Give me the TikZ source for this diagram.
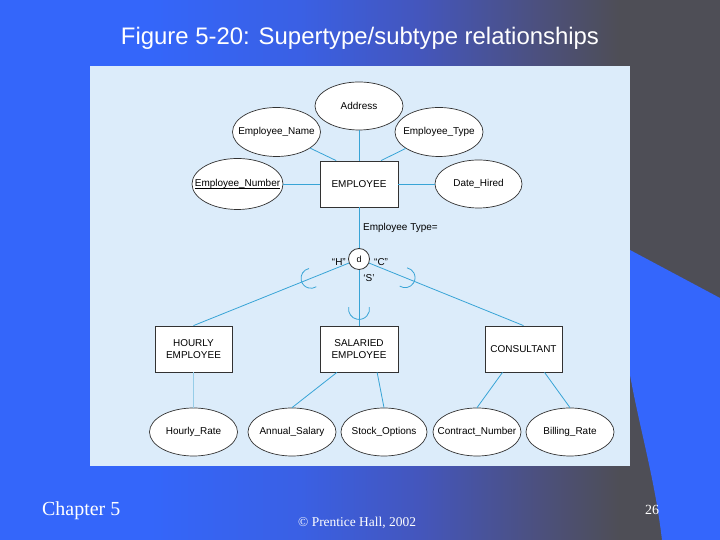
\documentclass[tikz,border=0pt]{standalone}
\usepackage{fontspec}
\setmainfont{Liberation Sans}
\newfontfamily\timesf{Liberation Serif}
\usetikzlibrary{shapes.geometric,calc}
\definecolor{bgblue}{RGB}{52,102,250}
\definecolor{bgbtwo}{RGB}{58,96,228}
\definecolor{bgmid}{RGB}{68,86,188}
\definecolor{bgmtwo}{RGB}{76,80,125}
\definecolor{bggray}{RGB}{78,78,86}
\definecolor{shapeblue}{RGB}{52,102,252}
\definecolor{panel}{RGB}{220,236,250}
\definecolor{conncol}{RGB}{56,164,214}
\definecolor{connlight}{RGB}{150,205,232}
\definecolor{ink}{RGB}{50,50,50}
\pgfdeclarehorizontalshading{bgshade}{540bp}{color(0bp)=(bgblue); color(150bp)=(bgblue); color(300bp)=(bgbtwo); color(420bp)=(bgmid); color(540bp)=(bgmtwo); color(620bp)=(bggray); color(720bp)=(bggray)}
\newcommand\zw[1]{\makebox[0pt]{#1}}
\newcommand\keyline[1]{\setbox0\hbox{#1}\rlap{\rule[-3.2bp]{\wd0}{0.8bp}}\box0}
\begin{document}
\begin{tikzpicture}[x=1bp,y=1bp,
  attr/.style={ellipse, draw=ink, fill=white, line width=0.7bp, minimum width=88bp, minimum height=48bp, inner sep=0pt, font=\fontsize{10}{12}\selectfont},
  ent/.style={rectangle, draw=ink, fill=white, line width=0.8bp, minimum width=78bp, minimum height=46bp, inner sep=0pt, align=center, font=\fontsize{10}{12.5}\selectfont},
  conn/.style={draw=conncol, line width=0.8bp},
  lbl/.style={font=\fontsize{10}{12}\selectfont, text=black, inner sep=0pt}]
\useasboundingbox (0,0) rectangle (720,540);
\node[anchor=south west, inner sep=0pt, outer sep=0pt] (bg) at (0,0) {\pgfuseshading{bgshade}};
\fill[shapeblue] (630,290) -- (720,242) -- (720,0) -- (662,0) .. controls (655,60) and (640,110) .. (630,165) -- cycle;
\fill[panel] (90,74) rectangle (630,474);
\node[anchor=base, text=white, inner sep=0pt, font=\fontsize{24}{28}\selectfont] (title) at (360,495) {Figure 5-20: Supertype/subtype relationships};
% supertype and attributes
\node[attr] (addr) at (359,434) {\zw{Address}};
\node[attr, minimum height=49bp] (ename) at (276.5,408) {\zw{Employee\_Name}};
\node[attr, minimum height=49bp] (etype) at (439,408) {\zw{Employee\_Type}};
\node[attr, minimum width=91bp, minimum height=51bp] (enum) at (237.5,356) {\zw{\keyline{Employee\_Number}}};
\node[attr, minimum width=87bp] (dhired) at (478.5,356) {\zw{Date\_Hired}};
\node[ent] (emp) at (359,356) {EMPLOYEE};
\node[circle, draw=ink, fill=white, line width=0.8bp, minimum size=21bp, inner sep=0pt, font=\fontsize{9}{10}\selectfont] (d) at (359,281) {d};
% subtypes
\node[ent, minimum width=77bp] (hourly) at (193.5,191) {HOURLY\\EMPLOYEE};
\node[ent] (salaried) at (359,191) {SALARIED\\EMPLOYEE};
\node[ent, minimum width=77bp] (consult) at (523.5,191) {CONSULTANT};
\node[attr] (hrate) at (193.5,108) {\zw{Hourly\_Rate}};
\node[attr] (asal) at (292,108) {\zw{Annual\_Salary}};
\node[attr, minimum width=86bp] (stock) at (384,108) {\zw{Stock\_Options}};
\node[attr] (contract) at (477,108) {\zw{Contract\_Number}};
\node[attr] (billing) at (570,108) {\zw{Billing\_Rate}};
% connectors
\draw[conn] (addr) -- (emp);
\draw[conn] (ename) -- ($(emp.north west)!0.21!(emp.north east)$);
\draw[conn] (etype) -- ($(emp.north west)!0.78!(emp.north east)$);
\draw[conn] (enum) -- (emp);
\draw[conn] (dhired) -- (emp);
\draw[conn] (emp) -- (d);
\draw[conn] (d) -- (hourly.north);
\draw[conn] (d) -- (salaried.north);
\draw[conn] (d) -- (consult.north);
\draw[draw=connlight, line width=0.8bp] (hourly) -- (hrate);
\draw[conn] ($(salaried.south west)!0.22!(salaried.south east)$) -- (asal.north);
\draw[conn] ($(salaried.south west)!0.73!(salaried.south east)$) -- (stock.north);
\draw[conn] ($(consult.south west)!0.23!(consult.south east)$) -- (contract.north);
\draw[conn] ($(consult.south west)!0.77!(consult.south east)$) -- (billing.north);
% subset symbols
\coordinate (sh) at ($(d)!0.29!(hourly.north)$);
\coordinate (ss) at ($(d)!0.75!(salaried.north)$);
\coordinate (sc) at ($(d)!0.28!(consult.north)$);
\draw[conn] ([shift={(102:10)}]sh) arc[start angle=102, end angle=302, radius=10];
\draw[conn] ([shift={(170:10.5)}]ss) arc[start angle=170, end angle=370, radius=10.5];
\draw[conn] ([shift={(-122:10)}]sc) arc[start angle=-122, end angle=78, radius=10];
% labels
\node[lbl, anchor=west] (etl) at (363,312) {Employee Type=};
\node[lbl, anchor=east] (lh) at (346,278) {“H”};
\node[lbl, anchor=west] (lc) at (374,278) {“C”};
\node[lbl, anchor=center] (ls) at (369,261.5) {‘S’};
% footer
\node[anchor=base west, text=white, inner sep=0pt, font=\timesf\fontsize{20}{24}\selectfont] (chap) at (42,24) {Chapter 5};
\node[anchor=base west, text=white, inner sep=0pt, font=\timesf\fontsize{13.5}{16}\selectfont] (copy) at (298,13.3) {© Prentice Hall, 2002};
\node[anchor=base west, text=white, inner sep=0pt, font=\timesf\fontsize{14}{16}\selectfont] (pg) at (645,25) {26};
\end{tikzpicture}
\end{document}
